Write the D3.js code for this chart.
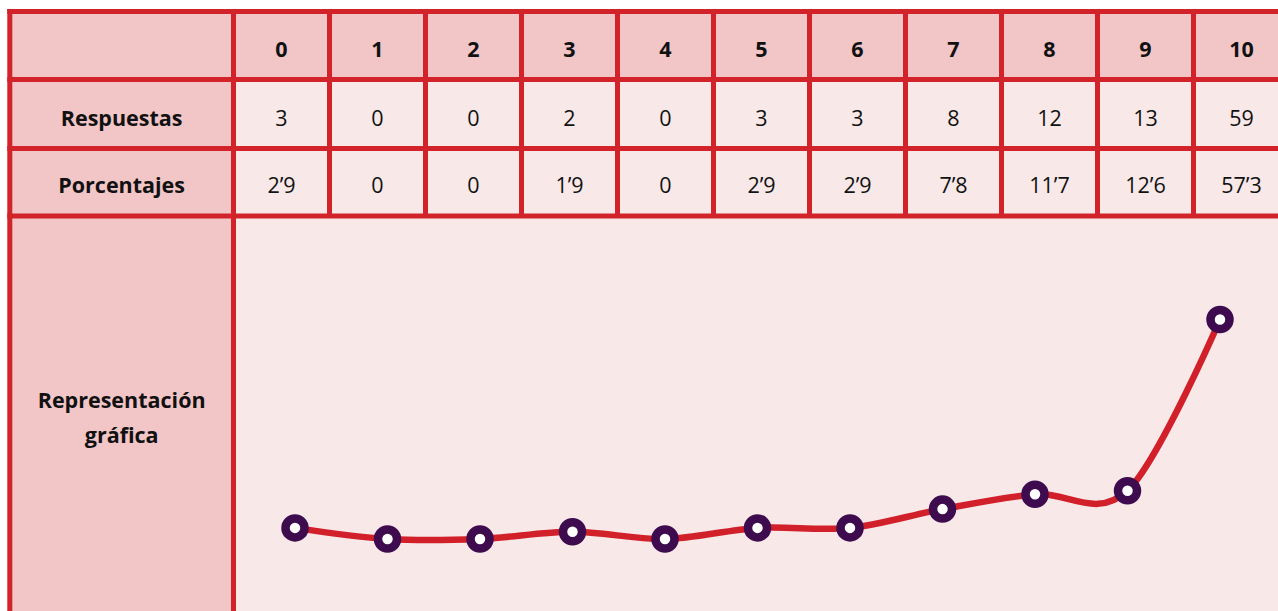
<!DOCTYPE html>
<html>
<head>
<meta charset="utf-8">
<script src="https://cdn.jsdelivr.net/npm/d3@7"></script>
<style>
  html, body { margin: 0; padding: 0; background: #ffffff; }
  svg { display: block; }
  text { font-family: "Open Sans", "Noto Sans", sans-serif; fill: #111; }
</style>
</head>
<body>
<svg id="chart" width="1278" height="611"></svg>
<script>
// ---- data ----
const categories = ["0", "1", "2", "3", "4", "5", "6", "7", "8", "9", "10"];
const respuestas = [3, 0, 0, 2, 0, 3, 3, 8, 12, 13, 59];
const porcentajes = [2.9, 0, 0, 1.9, 0, 2.9, 2.9, 7.8, 11.7, 12.6, 57.3];
const rowLabels = ["Respuestas", "Porcentajes"];
const chartRowLabel = ["Representación", "gráfica"];

// ---- layout ----
const W = 1278, H = 611;
const svg = d3.select("#chart");
const leftX = 9.8, firstColX = 233.5, colW = 96;
const rowY = [11.5, 79.5, 148.5, 216];
const border = "#D2222A";
const headFill = "#F2C5C7";
const cellFill = "#F8E8E8";
const fs = 21.5;

const xCol = d3.scaleBand().domain(categories)
  .range([firstColX, firstColX + colW * categories.length]).padding(0);

// backgrounds
svg.append("rect").attr("x", leftX).attr("y", rowY[0])
  .attr("width", W).attr("height", H).attr("fill", cellFill);
svg.append("rect").attr("x", leftX).attr("y", rowY[0])
  .attr("width", W).attr("height", rowY[1] - rowY[0]).attr("fill", headFill);
svg.append("rect").attr("x", leftX).attr("y", rowY[0])
  .attr("width", firstColX - leftX).attr("height", H).attr("fill", headFill);

// header labels
svg.append("g").selectAll("text").data(categories).join("text")
  .attr("x", d => xCol(d) + xCol.bandwidth() / 2)
  .attr("y", 57)
  .attr("text-anchor", "middle")
  .attr("font-size", fs).attr("font-weight", 700)
  .text(d => d);

// row labels
const rowBase = [126, 193];
svg.append("g").selectAll("text").data(rowLabels).join("text")
  .attr("x", (leftX + firstColX) / 2)
  .attr("y", (d, i) => rowBase[i])
  .attr("text-anchor", "middle")
  .attr("font-size", fs).attr("font-weight", 700)
  .text(d => d);

// value rows
const fmt = v => String(v).replace(".", "\u2019");
const rows = [respuestas.map(String), porcentajes.map(fmt)];
rows.forEach((vals, ri) => {
  svg.append("g").selectAll("text").data(vals).join("text")
    .attr("x", (d, i) => xCol(categories[i]) + xCol.bandwidth() / 2)
    .attr("y", rowBase[ri])
    .attr("text-anchor", "middle")
    .attr("font-size", fs).attr("font-weight", 400)
    .text(d => d);
});

// chart row label
svg.append("g").selectAll("text").data(chartRowLabel).join("text")
  .attr("x", (leftX + firstColX) / 2)
  .attr("y", (d, i) => 408 + i * 35)
  .attr("text-anchor", "middle")
  .attr("font-size", fs).attr("font-weight", 700)
  .text(d => d);

// grid lines
const gl = svg.append("g").attr("stroke", border).attr("stroke-width", 5);
rowY.forEach(y => {
  gl.append("line").attr("x1", leftX - 2.5).attr("x2", W).attr("y1", y).attr("y2", y);
});
[leftX, firstColX].forEach(x => {
  gl.append("line").attr("x1", x).attr("x2", x).attr("y1", rowY[0] - 2.5).attr("y2", H);
});
categories.slice(1).map(c => xCol(c)).concat([xCol.range()[1]]).forEach(x => {
  gl.append("line").attr("x1", x).attr("x2", x).attr("y1", rowY[0]).attr("y2", rowY[3]);
});

// ---- line chart ----
const xPt = d3.scalePoint().domain(categories).range([295, 1220]);
const y = d3.scaleLinear().domain([0, 57.3]).range([539, 319.5]);

const line = d3.line()
  .x((d, i) => xPt(categories[i]))
  .y(d => y(d))
  .curve(d3.curveCardinal.tension(0));

svg.append("path").datum(porcentajes)
  .attr("d", line)
  .attr("fill", "none")
  .attr("stroke", "#D2202A")
  .attr("stroke-width", 6.5)
  .attr("stroke-linecap", "round");

svg.append("g").selectAll("circle").data(porcentajes).join("circle")
  .attr("cx", (d, i) => xPt(categories[i]))
  .attr("cy", d => y(d))
  .attr("r", 9.5)
  .attr("fill", "#ffffff")
  .attr("stroke", "#3D0B4E")
  .attr("stroke-width", 8.5);
</script>
</body>
</html>
